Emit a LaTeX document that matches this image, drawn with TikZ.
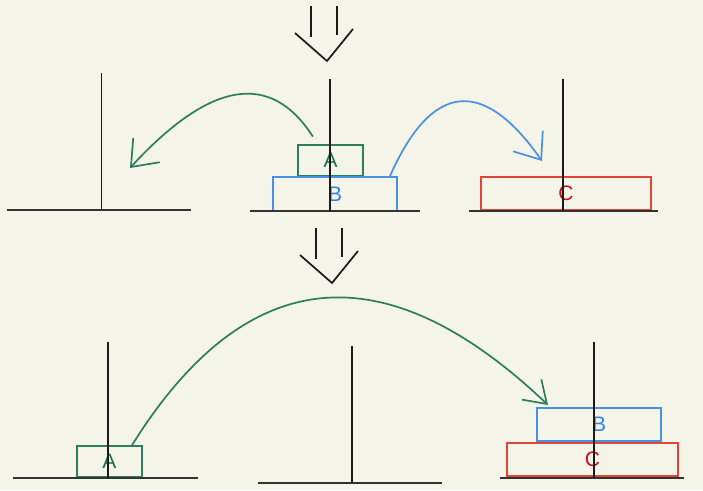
\documentclass[tikz,border=0pt]{standalone}
\usepackage{fontspec}
\setsansfont{Liberation Sans}
\usetikzlibrary{arrows.meta}
\definecolor{cbg}{HTML}{F4F4E8}
\definecolor{cgreen}{HTML}{2E7D5E}
\definecolor{cblue}{HTML}{4A90E2}
\definecolor{cred}{HTML}{E0453A}
\definecolor{tgreen}{HTML}{1F7352}
\definecolor{tblue}{HTML}{2D82EA}
\definecolor{tred}{HTML}{C8101A}
\definecolor{cink}{HTML}{1A1A1A}
\definecolor{cbase}{HTML}{333333}
\tikzset{
  every picture/.style={font=\sffamily, line width=1.7pt},
  disk/.style 2 args={draw=#1, text=#2, rectangle, inner sep=0pt, font=\sffamily\fontsize{21}{21}\selectfont},
  peg/.style={draw=cink, line width=1.7pt},
  base/.style={draw=cbase, line width=2pt},
  move/.style={-{Straight Barb[length=23pt, width=36pt]}, line width=1.7pt},
  hop/.style={draw=cink, line width=1.7pt},
}

\begin{document}
\begin{tikzpicture}[x=1pt, y=-1pt]
  \fill[cbg] (0,0) rectangle (703,490);
  \useasboundingbox (0,0) rectangle (703,490);
  % hollow down arrows between the states
  \foreach \dx/\dy in {0/0, 5/222} {
    \begin{scope}[shift={(\dx,\dy)}]
      \draw[hop] (311,6) -- (311,37) (337,6) -- (337,35);
      \draw[hop] (295,33) -- (327,61) -- (353,29);
    \end{scope}
  }
  % disks, before
  \node[disk={cgreen}{tgreen}, minimum width=65pt, minimum height=31pt] (topA) at (330.5,160.5) {A};
  \node[disk={cblue}{tblue}, minimum width=124pt, minimum height=34pt] (topB) at (335,194) {B};
  \node[disk={cred}{tred}, minimum width=170pt, minimum height=33pt] (topC) at (566,193.5) {C};
  % disks, after
  \node[disk={cgreen}{tgreen}, minimum width=65pt, minimum height=31pt] (botA) at (109.5,461.5) {A};
  \node[disk={cblue}{tblue}, minimum width=124pt, minimum height=33pt] (botB) at (599,424.5) {B};
  \node[disk={cred}{tred}, minimum width=171pt, minimum height=33pt] (botC) at (592.5,459.5) {C};
  % pegs and their bases
  \foreach \x/\t/\b/\l/\r in {101.5/73/210/7/191, 330/79/211/250/420, 563/79/211/469/658,
                              108/342/478/13/198, 352/346/483/258/442, 594/342/478/500/684} {
    \draw[base] (\l,\b) -- (\r,\b);
    \draw[peg] (\x,\t) -- (\x,\b);
  }
  % moves
  \coordinate (toL) at (130,168);
  \coordinate (toR) at (542,161);
  \coordinate (toB) at (548,405);
  \draw[move, cgreen, shorten <=9pt] (topA.128) .. controls (270.5,70.6) and (210.1,80.9) .. (toL);
  \draw[move, cblue] (topB.18) .. controls (431.5,82.2) and (482.9,76.5) .. (toR);
  \draw[move, cgreen, -{Straight Barb[length=21pt, width=28pt]}] (botA.36) .. controls (245.8,262.9) and (384.5,249.6) .. (toB);
\end{tikzpicture}
\end{document}
